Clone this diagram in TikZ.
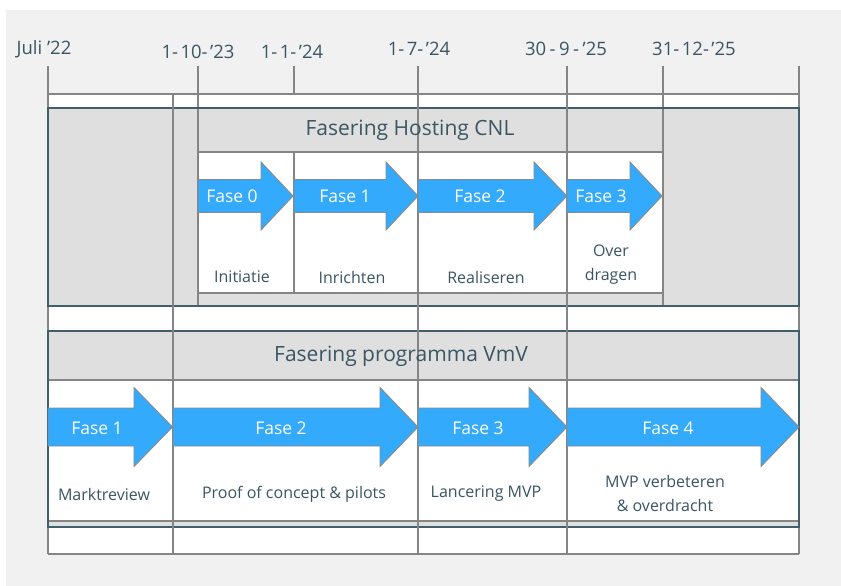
\documentclass[tikz,border=0pt]{standalone}
\usepackage{fontspec}
\setmainfont{Open Sans}
\definecolor{bgc}{HTML}{F1F1F1}
\definecolor{secfill}{HTML}{DFDFDF}
\definecolor{tealc}{HTML}{3E5F6B}
\definecolor{gridc}{HTML}{858585}
\definecolor{arrfill}{HTML}{33AAFB}
\definecolor{arrdraw}{HTML}{8A8A8A}
\definecolor{txtc}{HTML}{3A5663}
\tikzset{
  gl/.style={draw=gridc, line width=1.2pt},
  tl/.style={draw=tealc, line width=1.6pt},
  fasearr/.style={fill=arrfill, draw=arrdraw, line width=0.9pt, line join=miter},
  datelbl/.style={text=txtc, font=\fontsize{18.5}{22}\selectfont, inner sep=0pt},
  hdrlbl/.style={text=txtc, font=\fontsize{21}{25}\selectfont, inner sep=0pt},
  faselbl/.style={text=white, font=\fontsize{17.5}{20}\selectfont, inner sep=0pt},
  sublbl/.style={text=txtc, font=\fontsize{16}{24}\selectfont, inner sep=0pt, align=center},
}
\newcommand\fasepoly[6]{% x0, xb, xt, yc, shaft half, head half
  \filldraw[fasearr] (#1,#4-#5) -- (#2,#4-#5) -- (#2,#4-#6) -- (#3,#4) -- (#2,#4+#6) -- (#2,#4+#5) -- (#1,#4+#5) -- cycle;}
\newcommand\dgap{\kern2.5pt}
\begin{document}
\begin{tikzpicture}[x=1pt,y=-1pt]
\useasboundingbox (0,0) rectangle (841,586);
\fill[bgc] (6,10) rectangle (841,586);
% fills
\fill[white] (48,94) rectangle (799,108);
\fill[secfill] (48,108) rectangle (799,306);
\fill[white] (198,152) rectangle (663,293);
\fill[white] (48,306) rectangle (799,331);
\fill[secfill] (48,331) rectangle (799,527);
\fill[white] (48,380) rectangle (799,521);
\fill[white] (48,527) rectangle (799,554);
% grid horizontals
\draw[gl] (48,94) -- (799,94);
\draw[gl] (198,152) -- (663,152);
\draw[gl] (198,293) -- (663,293);
\draw[gl] (48,380) -- (799,380);
\draw[gl] (48,521) -- (799,521);
\draw[gl] (48,554) -- (799,554);
% grid verticals
\draw[gl] (48,66) -- (48,554);
\draw[gl] (173,94) -- (173,554);
\draw[gl] (198,66) -- (198,306);
\draw[gl] (294,66) -- (294,94);
\draw[gl] (294,152) -- (294,293);
\draw[gl] (418,66) -- (418,554);
\draw[gl] (567,66) -- (567,554);
\draw[gl] (663,66) -- (663,306);
\draw[gl] (799,66) -- (799,554);
% teal section borders
\draw[tl] (48,108) rectangle (799,306);
\draw[tl] (48,331) rectangle (799,527);
% re-overlay grey columns on teal
\draw[gl] (173,104) -- (173,112);
\draw[gl] (173,302) -- (173,335);
\draw[gl] (418,104) -- (418,112);
\draw[gl] (418,302) -- (418,335);
\draw[gl] (567,104) -- (567,112);
\draw[gl] (567,302) -- (567,335);
\draw[gl] (173,523) -- (173,531);
\draw[gl] (418,523) -- (418,531);
\draw[gl] (567,523) -- (567,531);
% date labels
\node[datelbl] (d0) at (44,49) {Juli ’22};
\node[datelbl] (d1) at (198,52) {1-\dgap10-\dgap’23};
\node[datelbl] (d2) at (292,52) {1-\dgap1-\dgap’24};
\node[datelbl] (d3) at (419,49) {1-\dgap7-\dgap’24};
\node[datelbl] (d4) at (566,49) {30\kern3.5pt-\kern3.5pt9\kern3.5pt-\kern3.5pt’25};
\node[datelbl] (d5) at (694,49) {31-\dgap12-\dgap’25};
% headers
\node[hdrlbl] (h1) at (410,130) {Fasering Hosting CNL};
\node[hdrlbl] (h2) at (401,356) {Fasering programma VmV};
% top arrows
\fasepoly{198}{261}{293}{196}{16.5}{34}
\fasepoly{294}{386}{418}{196}{16.5}{34}
\fasepoly{418}{534}{567}{196}{16.5}{34}
\fasepoly{567}{630}{662}{196}{16.5}{34}
\node[faselbl] (t0) at (232,196) {Fase 0};
\node[faselbl] (t1) at (345,196) {Fase 1};
\node[faselbl] (t2) at (480,196) {Fase 2};
\node[faselbl] (t3) at (601,196) {Fase 3};
\node[sublbl] (s0) at (242,277) {Initiatie};
\node[sublbl] (s1) at (352,277) {Inrichten};
\node[sublbl] (s2) at (486,277) {Realiseren};
\node[sublbl] (s3) at (611,265) {Over\\dragen};
% bottom arrows
\fasepoly{48}{134}{172.5}{427}{19}{39.5}
\fasepoly{173}{380}{418}{427}{19}{39.5}
\fasepoly{418}{529}{567}{427}{19}{39.5}
\fasepoly{567}{761}{799}{427}{19}{39.5}
\node[faselbl] (b1) at (97,428) {Fase 1};
\node[faselbl] (b2) at (281,428) {Fase 2};
\node[faselbl] (b3) at (478,428) {Fase 3};
\node[faselbl] (b4) at (668,428) {Fase 4};
\node[sublbl] (u1) at (104,494) {Marktreview};
\node[sublbl] (u2) at (294,494) {Proof of concept \& pilots};
\node[sublbl] (u3) at (486,494) {Lancering MVP};
\node[sublbl] (u4) at (665,493) {MVP verbeteren\\\& overdracht};
\end{tikzpicture}
\end{document}
